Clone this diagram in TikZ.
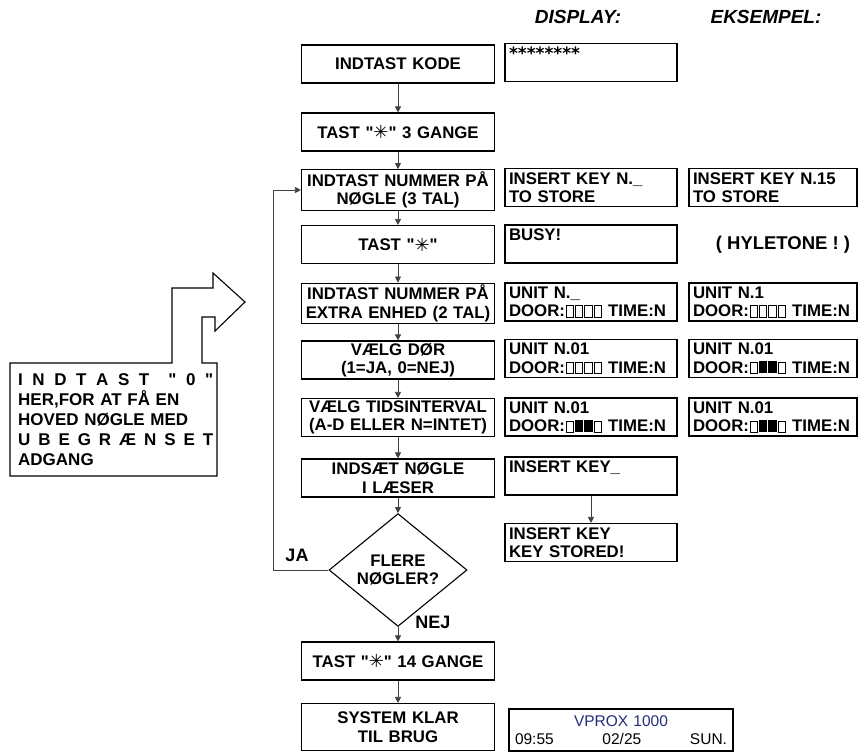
\documentclass[tikz,border=0pt]{standalone}
\usepackage{fontspec}
\setmainfont{Liberation Sans}
\newfontfamily\symfont{DejaVu Sans}
\usetikzlibrary{arrows.meta,shapes.geometric}
\definecolor{vprox}{RGB}{35,45,120}
\newcommand{\tstar}{\textquotedbl{\symfont\fontsize{18}{18}\selectfont\raisebox{-0.5pt}{✳}}\textquotedbl}
\newcommand{\dro}{\hspace{0.6pt}{\fboxsep=0pt\fboxrule=0.9pt\fbox{\rule{0pt}{10.2pt}\hspace{6.4pt}}}\hspace{0.6pt}}
\newcommand{\drf}{\hspace{0.6pt}\rule{8.2pt}{12pt}\hspace{0.6pt}}

\begin{document}
\begin{tikzpicture}[x=1pt,y=-1pt,
    box/.style={draw,line width=1.1pt,minimum width=193pt,minimum height=38pt,text width=185pt,inner xsep=4pt,inner ysep=2pt,align=center,font=\bfseries\fontsize{16.8}{18.5}\selectfont},
    disp/.style={draw,line width=1.1pt,minimum width=172pt,minimum height=38pt,text width=164pt,inner xsep=4pt,inner ysep=2pt,align=left,font=\bfseries\fontsize{16.8}{18.5}\selectfont},
    ex/.style={disp,minimum width=168pt,text width=160pt},
    dia/.style={draw,diamond,line width=1.1pt,minimum width=138pt,minimum height=86pt,inner sep=0pt,align=center,font=\bfseries\fontsize{16.8}{18.5}\selectfont},
    flow/.style={-{Triangle[length=6pt,width=6pt]},line width=0.7pt,black!75},
    lbl/.style={font=\bfseries\fontsize{18}{20}\selectfont},
    hdr/.style={font=\bfseries\itshape\fontsize{19}{21}\selectfont}
  ]
  \useasboundingbox (0,0) rectangle (859,753);
  \node[hdr] (hdisp) at (578,17) {DISPLAY:};
  \node[hdr] (hex)   at (766,17) {EKSEMPEL:};

  \node[box] (b1)  at (398,64)    {INDTAST KODE};
  \node[box] (b2)  at (398,132)   {TAST \tstar\ 3 GANGE};
  \node[box] (b3)  at (398,190)   {INDTAST NUMMER PÅ\\NØGLE (3 TAL)};
  \node[box] (b4)  at (398,244.5) {TAST \tstar};
  \node[box] (b5)  at (398,303.5) {INDTAST NUMMER PÅ\\EXTRA ENHED (2 TAL)};
  \node[box] (b6)  at (398,360)   {VÆLG DØR\\(1=JA, 0=NEJ)};
  \node[box] (b7)  at (398,417.5) {VÆLG TIDSINTERVAL\\(A-D ELLER N=INTET)};
  \node[box] (b8)  at (398,478)   {INDSÆT NØGLE\\I LÆSER};
  \node[dia] (fl)  at (398,570)   {FLERE\\NØGLER?};
  \node[box] (b9)  at (398,661)   {TAST \tstar\ 14 GANGE};
  \node[box,minimum height=47pt] (b10) at (398,727) {SYSTEM KLAR\\TIL BRUG};

  \node[disp] (d1) at (591,62.5) {{\symfont\bfseries\fontsize{17}{17}\selectfont ********}\\\mbox{}};
  \node[disp] (d3) at (591,187.5) {INSERT KEY N.\_\\TO STORE};
  \node[disp] (d4) at (591,244)   {BUSY!\\\mbox{}};
  \node[disp] (d5) at (591,302)   {UNIT N.\_\\DOOR:\dro\dro\dro\dro\ TIME:N};
  \node[disp] (d6) at (591,358.5) {UNIT N.01\\DOOR:\dro\dro\dro\dro\ TIME:N};
  \node[disp] (d7) at (591,417)   {UNIT N.01\\DOOR:\dro\drf\drf\dro\ TIME:N};
  \node[disp] (d8) at (591,476)   {INSERT KEY\_\\\mbox{}};
  \node[disp] (d9) at (591,542.5) {INSERT KEY\\KEY STORED!};
  \node[disp,minimum width=224pt,text width=216pt,minimum height=42pt,align=center,font=\fontsize{15.5}{18}\selectfont] (d10) at (621,730)
    {\textcolor{vprox}{VPROX 1000}\\\makebox[212pt][s]{09:55\hfill 02/25\hfill SUN.}};

  \node[ex] (e3) at (773,187.5) {INSERT KEY N.15\\TO STORE};
  \node[lbl,font=\bfseries\fontsize{18.5}{20}\selectfont] (hy) at (783,245) {( HYLETONE ! )};
  \node[ex] (e5) at (773,302)   {UNIT N.1\\DOOR:\dro\dro\dro\dro\ TIME:N};
  \node[ex] (e6) at (773,358.5) {UNIT N.01\\DOOR:\dro\drf\drf\dro\ TIME:N};
  \node[ex] (e7) at (773,417)   {UNIT N.01\\DOOR:\dro\drf\drf\dro\ TIME:N};

  \draw[flow] (b1) -- (b2);
  \draw[flow] (b2) -- (b3);
  \draw[flow] (b3) -- (b4);
  \draw[flow] (b4) -- (b5);
  \draw[flow] (b5) -- (b6);
  \draw[flow] (b6) -- (b7);
  \draw[flow] (b7) -- (b8);
  \draw[flow] (b8) -- (fl);
  \draw[flow] (fl) -- (b9);
  \draw[flow] (b9) -- (b10);
  \draw[flow] (d8) -- (d9);
  \coordinate (lp) at (273,570);
  \draw[flow] (fl.west) -- (lp) |- (b3.west);
  \node[lbl] (ja)  at (297,555) {JA};
  \node[lbl] (nej) at (433,622) {NEJ};

  \draw[line width=1.1pt] (10,476) -- (10,363) -- (172,363) -- (172,288) -- (213,288) -- (213,273)
    -- (245,302) -- (215,331) -- (215,317) -- (202,317) -- (202,363) -- (217,363) -- (217,476) -- cycle;
  \node[anchor=north west,inner sep=0pt,text width=195pt,align=left,font=\bfseries\fontsize{17}{20}\selectfont] (call) at (18,373)
    {\makebox[\linewidth][s]{I\hfill N\hfill D\hfill T\hfill A\hfill S\hfill T\hfill\hfill \textquotedbl\hfill 0\hfill \textquotedbl}\\
     \makebox[\linewidth][s]{HER,FOR AT FÅ EN}\\
     \makebox[\linewidth][s]{HOVED NØGLE MED}\\
     \makebox[\linewidth][s]{U\hfill B\hfill E\hfill G\hfill R\hfill Æ\hfill N\hfill S\hfill E\hfill T}\\
     ADGANG};
\end{tikzpicture}
\end{document}
